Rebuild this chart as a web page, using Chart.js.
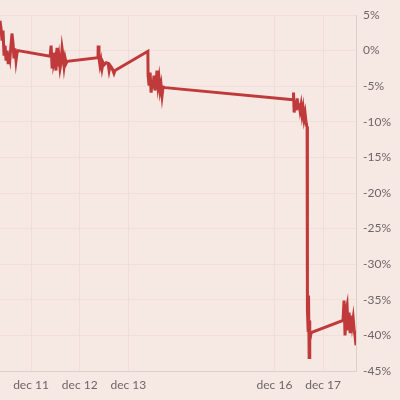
<!DOCTYPE html>
<html>
<head>
<meta charset="utf-8">
<script src="https://cdn.jsdelivr.net/npm/chart.js@4"></script>
<style>
  html, body { margin: 0; padding: 0; background: #f6e9e4; }
  #wrap { width: 400px; height: 400px; }
</style>
</head>
<body>
<div id="wrap"><canvas id="chart" width="400" height="400"></canvas></div>
<script>
// hours since dec 10 00:00
const hours = [
  8.7, 9.2, 9.7, 10.2, 10.7, 11.2, 11.7, 12.2, 12.7, 13.1, 13.6, 14.1, 14.6, 15.1, 15.6, 16.1, 16.6, 17.1, 17.6,
  33.4, 33.9, 34.4, 34.9, 35.3, 35.8, 36.3, 36.8, 37.3, 37.8, 38.3, 38.8, 39.3, 39.8, 40.3, 40.8, 41.3, 41.8,
  57.0, 57.1, 57.5, 58.0, 58.5, 59.0, 59.5, 60.0, 61.0, 62.0, 62.5, 63.0, 64.0, 64.9, 65.4,
  81.6, 81.7, 82.2, 82.7, 83.2, 83.7, 84.1, 84.6, 85.1, 85.6, 86.1, 86.6, 87.1, 87.6, 88.1, 88.6, 89.1, 90.1,
  153.2, 153.4, 153.7, 154.2, 154.7, 155.2, 155.7, 156.1, 156.6, 157.1, 157.6, 158.1, 158.6, 159.1, 159.6, 159.8,
  160.1, 160.2, 160.3, 160.6, 160.8, 161.1, 161.3, 161.5, 162.1,
  177.8, 178.3, 178.8, 179.3, 179.8, 180.3, 180.8, 181.3, 181.8, 182.3, 182.8, 183.3, 183.7, 184.2
];
const changePct = [
  4.2, 3.1, 1.4, 2.8, -0.7, 0.7, -1.4, 0.0, -1.7, -0.3, -1.1, 0.7, 2.4, 1.1, -1.1, 0.3, -1.4, -0.3, 0.0,
  -0.8, 0.7, -2.5, -0.3, -1.7, -1.1, -2.8, 0.4, -2.2, -1.0, -2.5, -1.7, 0.3, -0.7, -2.2, -1.1, -1.8, -1.5,
  -1.0, 0.7, -1.1, -2.1, -1.4, -2.5, -1.7, -2.0, -1.7, -1.8, -2.8, -2.1, -2.5, -3.2, -2.8,
  -0.1, -3.5, -4.9, -3.1, -5.9, -4.2, -5.3, -3.5, -5.6, -4.5, -2.8, -4.9, -3.9, -5.6, -4.8, -6.3, -5.1, -5.2,
  -6.9, -5.9, -8.7, -7.0, -8.4, -6.7, -8.1, -7.4, -8.4, -7.6, -9.0, -8.1, -9.6, -8.8, -10.1, -10.5,
  -10.7, -28.1, -36.5, -39.3, -34.4, -43.1, -37.9, -40.7, -39.6,
  -37.9, -35.1, -40.0, -36.5, -35.8, -39.3, -36.8, -39.7, -37.2, -38.6, -37.6, -39.3, -40.0, -41.4
];
const dayTicks = [24, 48, 72, 144, 168];
const dayLabels = ['dec 11', 'dec 12', 'dec 13', 'dec 16', 'dec 17'];

const points = hours.map((h, i) => ({ x: h, y: changePct[i] }));

const gridColor = '#eee0d6';
const borderColor = '#dcd0c9';
const textColor = '#6e6662';

new Chart(document.getElementById('chart'), {
  type: 'line',
  data: {
    datasets: [{
      data: points,
      borderColor: '#c03a3b',
      borderWidth: 3,
      pointRadius: 0,
      tension: 0,
      fill: false,
    }],
  },
  options: {
    responsive: false,
    animation: false,
    layout: { padding: { top: 15, left: 0, right: 0, bottom: 0 } },
    plugins: { legend: { display: false }, tooltip: { enabled: false } },
    scales: {
      x: {
        type: 'linear',
        min: 8.7,
        max: 184.2,
        afterBuildTicks: (scale) => {
          scale.ticks = dayTicks.map(v => ({ value: v }));
        },
        afterFit: (scale) => { scale.height = 29; },
        ticks: {
          autoSkip: false,
          maxRotation: 0,
          padding: 7,
          color: textColor,
          font: { family: 'Lato', size: 12 },
          callback: (v) => dayLabels[dayTicks.indexOf(v)],
        },
        grid: { color: gridColor, drawTicks: false },
        border: { color: borderColor },
      },
      y: {
        position: 'right',
        min: -45,
        max: 5,
        afterFit: (scale) => { scale.width = 44; },
        ticks: {
          stepSize: 5,
          padding: 7,
          color: textColor,
          font: { family: 'Lato', size: 12 },
          callback: (v) => v + '%',
        },
        grid: { color: gridColor, drawTicks: false },
        border: { color: borderColor },
      },
    },
  },
});
</script>
</body>
</html>
